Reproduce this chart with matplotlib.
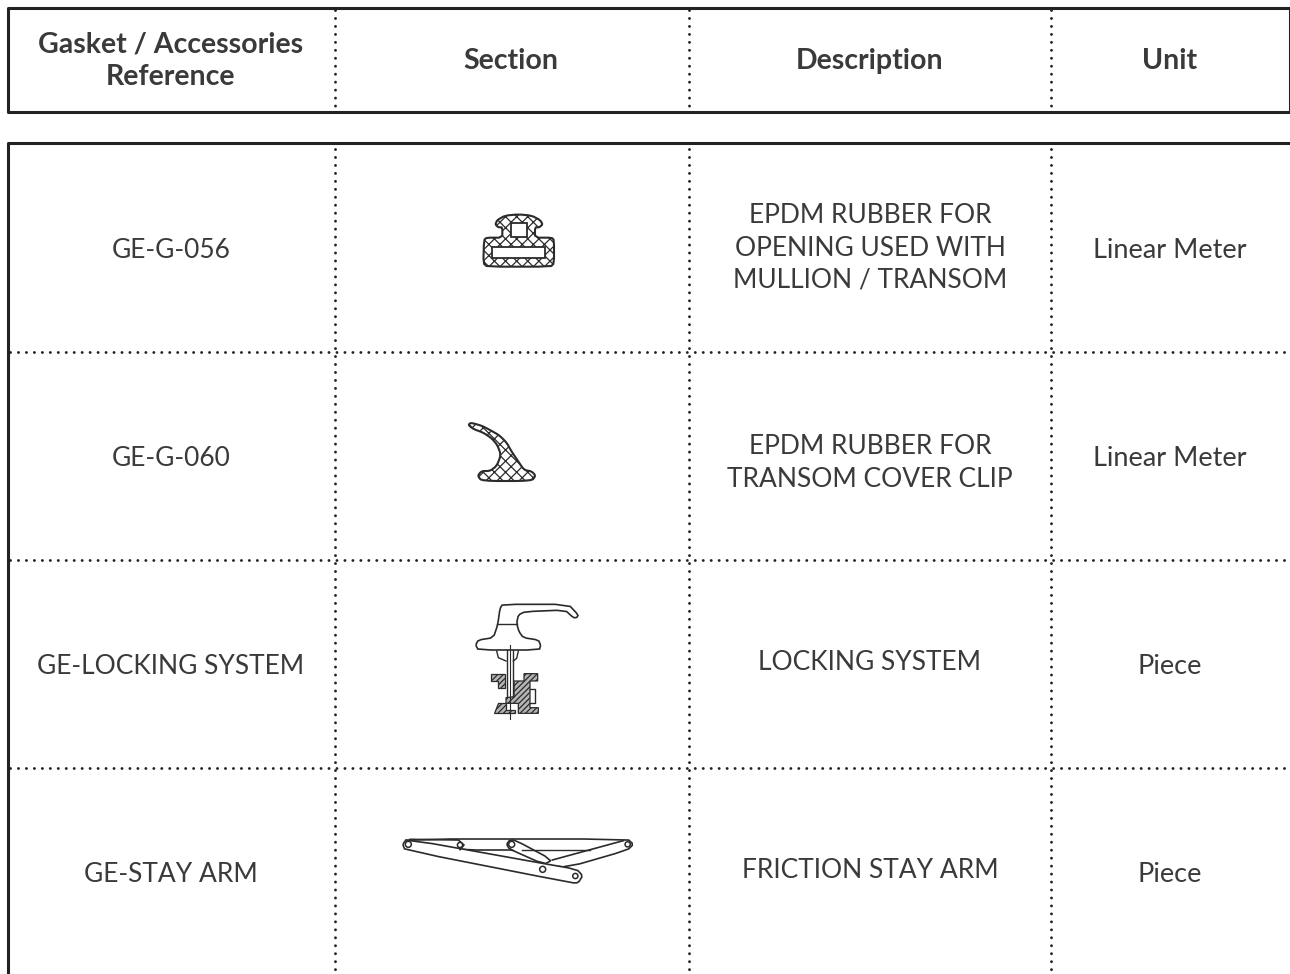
#!/usr/bin/env python3
"""Gasket / accessories reference table with small section drawings."""
import matplotlib
matplotlib.use("Agg")
import matplotlib.pyplot as plt
from matplotlib.patches import Circle, Polygon

plt.rcParams["font.family"] = ["Lato", "DejaVu Sans"]
plt.rcParams["hatch.linewidth"] = 0.9

headers = ["Gasket / Accessories\nReference", "Section", "Description", "Unit"]
references = ["GE-G-056", "GE-G-060", "GE-LOCKING SYSTEM", "GE-STAY ARM"]
descriptions = [
    "EPDM RUBBER FOR\nOPENING USED WITH\nMULLION / TRANSOM",
    "EPDM RUBBER FOR\nTRANSOM COVER CLIP",
    "LOCKING SYSTEM",
    "FRICTION STAY ARM",
]
units = ["Linear Meter", "Linear Meter", "Piece", "Piece"]

INK = "#2b2b2b"
COL_X = [335, 689, 1051]
ROW_Y = [352, 560, 768]
TEXT_X = [171, 511, 870, 1170]
ROW_MID = [250, 458, 666, 874]
DESC_MID = [248, 463, 662, 870]


def soften(points, rounds=2):
    # cut the corners so the outlines look drawn rather than polygonal
    for _ in range(rounds):
        out = []
        for i, (x0, y0) in enumerate(points):
            x1, y1 = points[(i + 1) % len(points)]
            out.append((0.8 * x0 + 0.2 * x1, 0.8 * y0 + 0.2 * y1))
            out.append((0.2 * x0 + 0.8 * x1, 0.2 * y0 + 0.8 * y1))
        points = out
    return points


def zoomed(points, ox, oy):
    return [(ox + x / 3, oy + y / 3) for x, y in points]


def draw_hatched(ax, pts, hatch="xxx", lw=1.5):
    ax.add_patch(Polygon(pts, closed=True, facecolor="white", edgecolor=INK,
                         hatch=hatch, lw=lw, joinstyle="round"))


def draw_hole(ax, pts, lw=1.3):
    ax.add_patch(Polygon(pts, closed=True, facecolor="white", edgecolor=INK, lw=lw))


def gasket_056(ax):
    outer = [(132, 210), (140, 203), (187, 203), (187, 172), (175, 172), (166, 163),
             (172, 150), (195, 137), (235, 133), (275, 137), (300, 150), (308, 163),
             (298, 172), (285, 172), (285, 203), (335, 203), (342, 210), (342, 280),
             (332, 290), (142, 290), (130, 280)]
    square = [(213, 160), (260, 160), (260, 200), (213, 200)]
    slot = [(155, 230), (315, 230), (315, 265), (155, 265)]
    draw_hatched(ax, zoomed(soften(outer, 1), 440, 170))
    draw_hole(ax, zoomed(square, 440, 170))
    draw_hole(ax, zoomed(slot, 440, 170))


def gasket_060(ax):
    outline = [(92, 38), (125, 47), (150, 60), (178, 76), (200, 98), (215, 125), (232, 150),
               (252, 180), (275, 184), (287, 197), (275, 213), (125, 213), (113, 197),
               (125, 183), (150, 183), (170, 168), (183, 135), (172, 105), (155, 85),
               (130, 68), (100, 57), (85, 45)]
    draw_hatched(ax, zoomed(soften(outline), 440, 410))


def locking_system(ax):
    ox, oy = 450, 595
    handle = [(143, 90), (150, 40), (158, 28), (355, 28), (385, 60), (380, 68), (370, 68),
              (345, 45), (225, 50), (205, 60), (200, 85), (207, 110), (220, 128),
              (265, 135), (272, 150), (268, 165), (85, 165), (77, 150), (85, 135),
              (130, 128)]
    ax.add_patch(Polygon(zoomed(soften(handle, 1), ox, oy), closed=True, facecolor="white",
                         edgecolor=INK, lw=1.2))
    segs = [[(143, 88), (200, 88)], [(140, 168), (145, 188), (168, 198)],
            [(205, 168), (200, 190), (190, 198)], [(170, 165), (170, 305)],
            [(190, 165), (190, 305)],
            [(240, 282), (255, 282), (255, 325), (240, 325)]]
    for seg in segs:
        xs, ys = zip(*zoomed(seg, ox, oy))
        ax.plot(xs, ys, color=INK, lw=1.0)
    blocks = [
        [(122, 236), (165, 236), (165, 280), (145, 280), (145, 258), (122, 258)],
        [(192, 258), (222, 258), (222, 236), (263, 236), (263, 258), (240, 258),
         (240, 338), (265, 338), (265, 355), (205, 355), (205, 325), (168, 325),
         (168, 308), (192, 305)],
        [(145, 325), (168, 325), (168, 345), (195, 345), (195, 355), (133, 355)],
    ]
    for b in blocks:
        ax.add_patch(Polygon(zoomed(b, ox, oy), closed=True, facecolor="#b5b5b5",
                             edgecolor=INK, lw=0.9, hatch="//////"))
    xs, ys = zip(*zoomed([(180, 150), (180, 372)], ox, oy))
    ax.plot(xs, ys, color=INK, lw=0.8)


def stay_arm(ax):
    ox, oy = 390, 825
    rail = [(50, 42), (713, 42), (730, 58), (713, 75), (533, 127), (460, 120), (395, 75),
            (225, 75), (45, 60)]
    ax.add_patch(Polygon(zoomed(soften(rail, 1), ox, oy), closed=True, facecolor="white",
                         edgecolor=INK, lw=1.2))
    xs, ys = zip(*zoomed([(487, 105), (700, 47)], ox, oy))
    ax.plot(xs, ys, color=INK, lw=1.2)
    xs, ys = zip(*zoomed([(395, 75), (600, 75)], ox, oy))
    ax.plot(xs, ys, color=INK, lw=1.0)
    link = [(375, 45), (487, 105), (462, 118), (358, 72), (350, 58), (358, 46)]
    ax.add_patch(Polygon(zoomed(soften(link, 1), ox, oy), closed=True, facecolor="white",
                         edgecolor=INK, lw=1.2))
    arm = [(50, 42), (440, 112), (560, 133), (578, 152), (565, 173), (548, 174),
           (45, 75), (38, 58)]
    ax.add_patch(Polygon(zoomed(soften(arm, 1), ox, oy), closed=True, facecolor="white",
                         edgecolor=INK, lw=1.2))
    xs, ys = zip(*zoomed([(60, 43), (205, 45), (222, 60), (210, 74)], ox, oy))
    ax.plot(xs, ys, color=INK, lw=1.2)
    for x, y, r in [(55, 58, 3.0), (210, 60, 2.6), (365, 58, 3.0), (713, 58, 2.6),
                    (458, 133, 3.0), (556, 153, 2.6)]:
        cx, cy = zoomed([(x, y)], ox, oy)[0]
        ax.add_patch(Circle((cx, cy), r, facecolor="white", edgecolor=INK, lw=1.1, zorder=5))


def main():
    fig = plt.figure(figsize=(12.9, 9.74), dpi=100)
    ax = fig.add_axes([0, 0, 1, 1])
    ax.set_xlim(0, 1290)
    ax.set_ylim(974, 0)
    ax.axis("off")

    # solid frames run off the right / bottom edge of the page
    frame = dict(color="#222222", lw=2.2, solid_capstyle="projecting", clip_on=True)
    ax.plot([1290, 8, 8, 1290], [8, 8, 112, 112], **frame)
    ax.plot([1290, 1290], [8, 112], **frame)
    ax.plot([8, 8, 1290], [974, 143, 143], **frame)

    dots = dict(color="#222222", lw=2.1, ls=(0, (0.01, 2.72)), dash_capstyle="round")
    for x in COL_X:
        ax.plot([x, x], [10, 112], **dots)
        ax.plot([x, x], [149, 974], **dots)
    for y in ROW_Y:
        ax.plot([10, 1288], [y, y], **dots)

    for x, label in zip(TEXT_X, headers):
        ax.text(x, 61, label, ha="center", va="center", fontsize=20.5, fontweight="bold",
                color="#3a3a3a", linespacing=1.33)
    for i in range(4):
        ax.text(TEXT_X[0], ROW_MID[i], references[i], ha="center", va="center",
                fontsize=19, color="#3a3a3a")
        ax.text(TEXT_X[2], DESC_MID[i], descriptions[i], ha="center", va="center",
                fontsize=19, color="#3a3a3a", linespacing=1.36)
        ax.text(TEXT_X[3], ROW_MID[i], units[i], ha="center", va="center",
                fontsize=19.5, color="#3a3a3a")

    gasket_056(ax)
    gasket_060(ax)
    locking_system(ax)
    stay_arm(ax)

    fig.savefig("out.png", dpi=100, facecolor="white")


if __name__ == "__main__":
    main()
